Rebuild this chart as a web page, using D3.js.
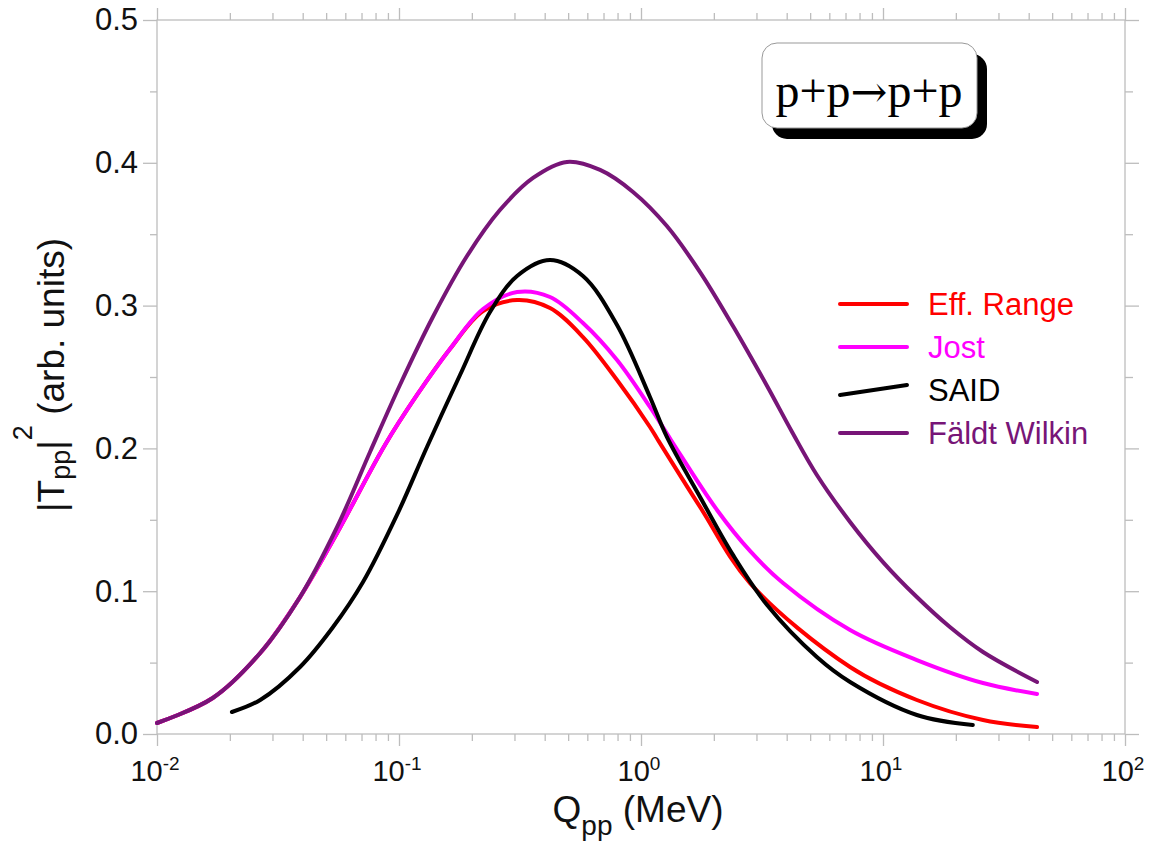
<!DOCTYPE html>
<html>
<head>
<meta charset="utf-8">
<script src="https://cdn.jsdelivr.net/npm/d3@7"></script>
<style>
  html, body { margin: 0; padding: 0; background: #fff; }
  svg { display: block; }
</style>
</head>
<body>
<div id="chart"></div>
<script>

// values: Q_pp in MeV, |T_pp|^2 in arb. units
var effRangeQ = [0.0100, 0.0170, 0.0267, 0.0390, 0.0555, 0.0875, 0.1187, 0.1624, 0.2225, 0.3076, 0.4207, 0.5758, 0.796, 1.089, 1.175, 1.754, 2.821, 7.31, 13.8, 25.9, 43.3];
var effRangeT = [0.0077, 0.0252, 0.0567, 0.0959, 0.1408, 0.2024, 0.2374, 0.2696, 0.2962, 0.3039, 0.2983, 0.2780, 0.2479, 0.2150, 0.2059, 0.1590, 0.1057, 0.0469, 0.0238, 0.0098, 0.0049];

var jostQ = [0.0100, 0.0170, 0.0267, 0.0390, 0.0555, 0.0875, 0.1187, 0.1624, 0.2225, 0.3076, 0.4207, 0.5758, 0.796, 1.089, 1.33, 2.061, 2.821, 3.863, 7.31, 13.8, 25.9, 43.3];
var jostT = [0.0077, 0.0252, 0.0567, 0.0959, 0.1408, 0.2024, 0.2374, 0.2696, 0.2976, 0.3095, 0.3060, 0.2878, 0.2619, 0.2290, 0.2059, 0.1569, 0.1282, 0.1057, 0.0728, 0.0518, 0.0357, 0.0280];

var saidQ = [0.0204, 0.0267, 0.0390, 0.0534, 0.0710, 0.0981, 0.1305, 0.1787, 0.2377, 0.3076, 0.4207, 0.5758, 0.796, 1.089, 1.279, 1.754, 2.399, 3.319, 5.33, 7.31, 13.8, 23.5];
var saidT = [0.0154, 0.0238, 0.0469, 0.0749, 0.1064, 0.1534, 0.2010, 0.2514, 0.2955, 0.3207, 0.3319, 0.3207, 0.2864, 0.2360, 0.2080, 0.1660, 0.1254, 0.0903, 0.0539, 0.0364, 0.0133, 0.0063];

var faeldtQ = [0.0100, 0.0170, 0.0267, 0.0390, 0.0555, 0.0759, 0.1009, 0.138, 0.191, 0.2612, 0.358, 0.4943, 0.6776, 0.927, 1.279, 1.754, 2.399, 3.319, 4.21, 5.33, 7.31, 10.0, 13.8, 18.9, 25.9, 43.3];
var faeldtT = [0.0077, 0.0252, 0.0567, 0.0959, 0.1450, 0.1975, 0.2444, 0.2920, 0.3347, 0.3669, 0.3894, 0.4006, 0.3950, 0.3796, 0.3557, 0.3235, 0.2857, 0.2437, 0.2115, 0.1814, 0.1485, 0.1204, 0.0959, 0.0749, 0.0574, 0.0364];

var seriesNames = ["Eff. Range", "Jost", "SAID", "Fäldt Wilkin"];

var yMajorTicks = [0, 0.1, 0.2, 0.3, 0.4, 0.5];
var yMinorTicks = [0.05, 0.15, 0.25, 0.35, 0.45];
var xMajorTicks = [0.01, 0.1, 1, 10, 100];
var xTickExponents = ["-2", "-1", "0", "1", "2"];

var reactionParts = ["p+p", "\u2192", "p+p"];

// ---------------------------------------------------------------

var width = 1150, height = 848;
var plot = { left: 157, right: 1125, top: 20, bottom: 734 };
var axisColor = "#bdbdbd";
var sansFont = "'Liberation Sans', Arial, Helvetica, sans-serif";
var serifFont = "'Liberation Serif', 'Times New Roman', Times, serif";
var colors = ["#ff0000", "#ff00ff", "#000000", "#771577"];

var series = [
	{ q: effRangeQ, t: effRangeT },
	{ q: jostQ, t: jostT },
	{ q: saidQ, t: saidT },
	{ q: faeldtQ, t: faeldtT }
];

// minor ticks 2..9 in each decade
var xMinorTicks = [];
for (var d = -2; d < 2; d++) {
	for (var m = 2; m <= 9; m++) xMinorTicks.push(m * Math.pow(10, d));
}

var x = d3.scaleLog().domain([0.01, 100]).range([plot.left, plot.right]);
var y = d3.scaleLinear().domain([0, 0.5]).range([plot.bottom, plot.top]);

var svg = d3.select("#chart")
	.append("svg")
	.attr("width", width)
	.attr("height", height)
	.style("font-family", sansFont);

svg.append("rect")
	.attr("width", width)
	.attr("height", height)
	.attr("fill", "#fff");

// frame
svg.append("rect")
	.attr("x", plot.left)
	.attr("y", plot.top)
	.attr("width", plot.right - plot.left)
	.attr("height", plot.bottom - plot.top)
	.attr("fill", "none")
	.attr("stroke", axisColor)
	.attr("stroke-width", 1.3);

function tickStyle(g) {
	g.select(".domain").remove();
	g.selectAll(".tick line").attr("stroke", axisColor).attr("stroke-width", 1.3);
}

function addAxis(gen, tx, ty, keepText) {
	var g = svg.append("g")
		.attr("transform", "translate(" + tx + "," + ty + ")")
		.call(gen)
		.call(tickStyle);
	if (!keepText) g.selectAll(".tick text").remove();
	return g;
}

// bottom / top
addAxis(d3.axisBottom(x).tickValues(xMajorTicks).tickSize(12), 0, plot.bottom);
addAxis(d3.axisBottom(x).tickValues(xMinorTicks).tickSize(7), 0, plot.bottom);
addAxis(d3.axisTop(x).tickValues(xMajorTicks).tickSize(12), 0, plot.top);
addAxis(d3.axisTop(x).tickValues(xMinorTicks).tickSize(7), 0, plot.top);

// left / right
var yAxisG = addAxis(d3.axisLeft(y).tickValues(yMajorTicks).tickSize(14).tickPadding(5)
	.tickFormat(d3.format(".1f")), plot.left, 0, true);
yAxisG.attr("font-family", null).attr("font-size", null);
yAxisG.selectAll(".tick text")
	.style("font-family", sansFont)
	.style("font-size", "31px")
	.attr("fill", "#111");
addAxis(d3.axisLeft(y).tickValues(yMinorTicks).tickSize(7), plot.left, 0);
addAxis(d3.axisRight(y).tickValues(yMajorTicks).tickSize(14), plot.right, 0);
addAxis(d3.axisRight(y).tickValues(yMinorTicks).tickSize(8), plot.right, 0);

// x tick labels 10^n
var xLabels = svg.append("g").selectAll("text")
	.data(xMajorTicks)
	.enter()
	.append("text")
	.attr("x", function(d) { return x(d) - 2; })
	.attr("y", 781)
	.attr("text-anchor", "middle")
	.attr("fill", "#111");
xLabels.append("tspan").attr("font-size", 29).text("10");
xLabels.append("tspan").attr("font-size", 19).attr("dy", -11)
	.text(function(d, i) { return xTickExponents[i]; });

// axis titles
var xTitle = svg.append("text")
	.attr("x", 638)
	.attr("y", 822)
	.attr("text-anchor", "middle")
	.attr("fill", "#111");
xTitle.append("tspan").attr("font-size", 37).text("Q");
xTitle.append("tspan").attr("font-size", 28).attr("dy", 13).text("pp");
xTitle.append("tspan").attr("font-size", 37).attr("dy", -13).text(" (MeV)");

var yTitle = svg.append("text")
	.attr("transform", "translate(64,375) rotate(-90)")
	.attr("text-anchor", "middle")
	.attr("fill", "#111");
yTitle.append("tspan").attr("font-size", 37).text("|T");
yTitle.append("tspan").attr("font-size", 27).attr("dy", 6).text("pp");
yTitle.append("tspan").attr("font-size", 37).attr("dy", -6).text("|");
yTitle.append("tspan").attr("font-size", 27).attr("dy", -32).text("2");
yTitle.append("tspan").attr("font-size", 37).attr("dy", 32).text(" (arb. units)");

// curves
var line = d3.line()
	.x(function(d) { return x(d[0]); })
	.y(function(d) { return y(d[1]); })
	.curve(d3.curveCatmullRom.alpha(0.5));

svg.append("g")
	.selectAll("path")
	.data(series)
	.enter()
	.append("path")
	.attr("d", function(s) { return line(d3.zip(s.q, s.t)); })
	.attr("fill", "none")
	.attr("stroke", function(s, i) { return colors[i]; })
	.attr("stroke-width", 4)
	.attr("stroke-linecap", "round")
	.attr("stroke-linejoin", "round");

// legend
var legend = svg.append("g").selectAll("g")
	.data(seriesNames)
	.enter()
	.append("g")
	.attr("transform", function(d, i) { return "translate(840," + (304 + i * 43) + ")"; });

legend.append("line")
	.attr("x1", 0)
	.attr("x2", 67)
	.attr("y1", function(d) { return d === "SAID" ? 5 : 0; })
	.attr("y2", function(d) { return d === "SAID" ? -5 : 0; })
	.attr("stroke", function(d, i) { return colors[i]; })
	.attr("stroke-width", 4)
	.attr("stroke-linecap", "round");

legend.append("text")
	.attr("x", 88)
	.attr("y", 11)
	.attr("font-size", 31)
	.attr("fill", function(d, i) { return colors[i]; })
	.text(function(d) { return d; });

// reaction box with drop shadow
var box = svg.append("g").attr("transform", "translate(762,43)");
box.append("rect")
	.attr("x", 10).attr("y", 11)
	.attr("width", 215).attr("height", 85)
	.attr("rx", 15).attr("ry", 15)
	.attr("fill", "#000");
box.append("rect")
	.attr("width", 215).attr("height", 85)
	.attr("rx", 15).attr("ry", 15)
	.attr("fill", "#fff")
	.attr("stroke", "#999")
	.attr("stroke-width", 1);
var reaction = box.append("text")
	.attr("x", 107)
	.attr("y", 64)
	.attr("text-anchor", "middle")
	.attr("fill", "#000")
	.style("font-family", serifFont)
	.style("font-size", "48px");
reaction.selectAll("tspan")
	.data(reactionParts)
	.enter()
	.append("tspan")
	.style("font-family", function(d, i) { return i === 1 ? "'DejaVu Serif', serif" : serifFont; })
	.style("font-size", function(d, i) { return i === 1 ? "44px" : "48px"; })
	.text(function(d) { return d; });

</script>
</body>
</html>
